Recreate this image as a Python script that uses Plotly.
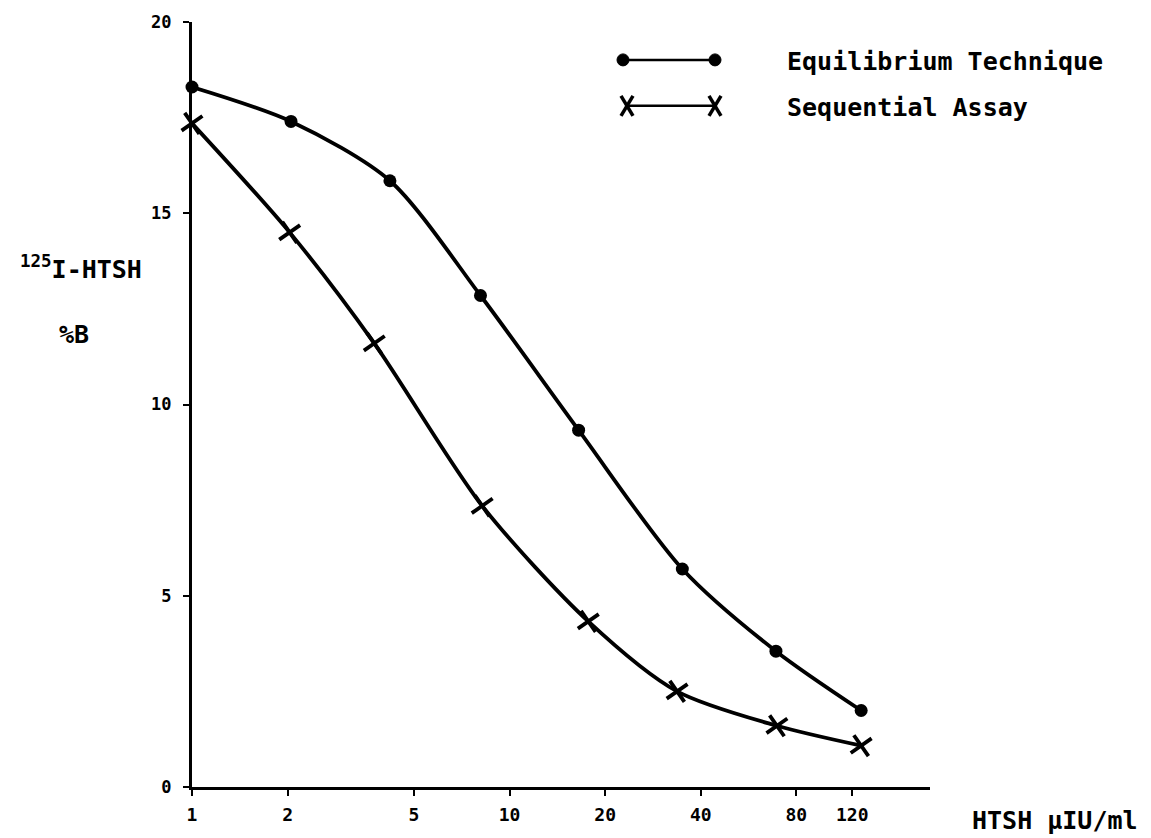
import plotly.graph_objects as go

# ---- data ----
x_tick_vals = [1, 2, 5, 10, 20, 40, 80, 120]
x_tick_text = ["1", "2", "5", "10", "20", "40", "80", "120"]
y_tick_vals = [0, 5, 10, 15, 20]
y_tick_text = ["0", "5", "10", "15", "20"]

equilibrium_x = [1.0, 2.05, 4.2, 8.1, 16.5, 35, 69, 128]
equilibrium_y = [18.3, 17.4, 15.85, 12.85, 9.33, 5.7, 3.55, 2.0]

sequential_x = [1.0, 2.03, 3.75, 8.2, 17.7, 33.7, 69.5, 128]
sequential_y = [17.35, 14.5, 11.6, 7.35, 4.33, 2.5, 1.6, 1.08]

series_names = ["Equilibrium Technique", "Sequential Assay"]

FONT = "DejaVu Sans Mono"
BLACK = "black"

fig = go.Figure()
fig.add_trace(go.Scatter(
    x=equilibrium_x, y=equilibrium_y, name=series_names[0],
    mode="lines+markers",
    line=dict(color=BLACK, width=3.8, shape="spline", smoothing=0.8),
    marker=dict(symbol="circle", size=13, color=BLACK),
    showlegend=False, cliponaxis=False,
))
fig.add_trace(go.Scatter(
    x=sequential_x, y=sequential_y, name=series_names[1],
    mode="lines+markers",
    line=dict(color=BLACK, width=3.8, shape="spline", smoothing=0.8),
    marker=dict(symbol="x-thin", size=18, color=BLACK, angle=10,
                line=dict(color=BLACK, width=3.8)),
    showlegend=False, cliponaxis=False,
))

L, R, T, B = 192, 221, 20, 51
W, H = 1151, 838
pw, ph = W - L - R, H - T - B


def px(xp):
    return (xp - L) / pw


def py(yp):
    return (H - B - yp) / ph


shapes = []
# legend glyph: equilibrium (line with dots at ends)
ly1 = py(58)
shapes.append(dict(type="line", xref="paper", yref="paper", x0=px(623), x1=px(715),
                   y0=ly1, y1=ly1, line=dict(color=BLACK, width=2.5)))
for xx in (623, 715):
    shapes.append(dict(type="circle", xref="paper", yref="paper",
                       xsizemode="pixel", ysizemode="pixel",
                       xanchor=px(xx), yanchor=ly1, x0=-6, x1=6, y0=-6, y1=6,
                       fillcolor=BLACK, line=dict(color=BLACK, width=1)))
# legend glyph: sequential (line with crosses at ends)
ly2 = py(104)
shapes.append(dict(type="line", xref="paper", yref="paper", x0=px(627), x1=px(715),
                   y0=ly2, y1=ly2, line=dict(color=BLACK, width=2.5)))
for xx in (627, 715):
    for sgn in (1, -1):
        shapes.append(dict(type="line", xref="paper", yref="paper",
                           xsizemode="pixel", ysizemode="pixel",
                           xanchor=px(xx), yanchor=ly2,
                           x0=-6, x1=6, y0=-10 * sgn, y1=10 * sgn,
                           line=dict(color=BLACK, width=3.5)))

TXT = dict(family=FONT, size=25, color=BLACK, weight="bold")
annotations = [
    dict(text=series_names[0], x=px(785), y=py(60), xref="paper", yref="paper",
         xanchor="left", yanchor="middle", showarrow=False, font=TXT),
    dict(text=series_names[1], x=px(785), y=py(106), xref="paper", yref="paper",
         xanchor="left", yanchor="middle", showarrow=False, font=TXT),
    dict(text="HTSH µIU/ml", x=px(970), y=py(821), xref="paper", yref="paper",
         xanchor="left", yanchor="middle", showarrow=False, font=TXT),
    dict(text="<sup>125</sup>I-HTSH", x=px(18), y=py(266), xref="paper", yref="paper",
         xanchor="left", yanchor="middle", showarrow=False, font=TXT),
    dict(text="%B", x=px(57), y=py(333), xref="paper", yref="paper",
         xanchor="left", yanchor="middle", showarrow=False, font=TXT),
]

fig.update_layout(
    width=W, height=H,
    margin=dict(l=L, r=R, t=T, b=B, pad=0),
    paper_bgcolor="white", plot_bgcolor="white",
    shapes=shapes, annotations=annotations,
    showlegend=False,
    xaxis=dict(type="log", range=[0, 2.324], tickvals=x_tick_vals, ticktext=x_tick_text,
               showgrid=False, zeroline=False, showline=True, linecolor=BLACK, linewidth=3,
               ticks="outside", ticklen=6, tickwidth=2, tickcolor=BLACK,
               ticklabelstandoff=3,
               tickfont=dict(family=FONT, size=18, color=BLACK, weight="bold")),
    yaxis=dict(range=[0, 20], tickvals=y_tick_vals, ticktext=y_tick_text,
               showgrid=False, zeroline=False, showline=True, linecolor=BLACK, linewidth=3,
               ticks="outside", ticklen=6, tickwidth=2, tickcolor=BLACK,
               ticklabelstandoff=8,
               tickfont=dict(family=FONT, size=17, color=BLACK, weight="bold")),
)

fig.write_html("out.html")
